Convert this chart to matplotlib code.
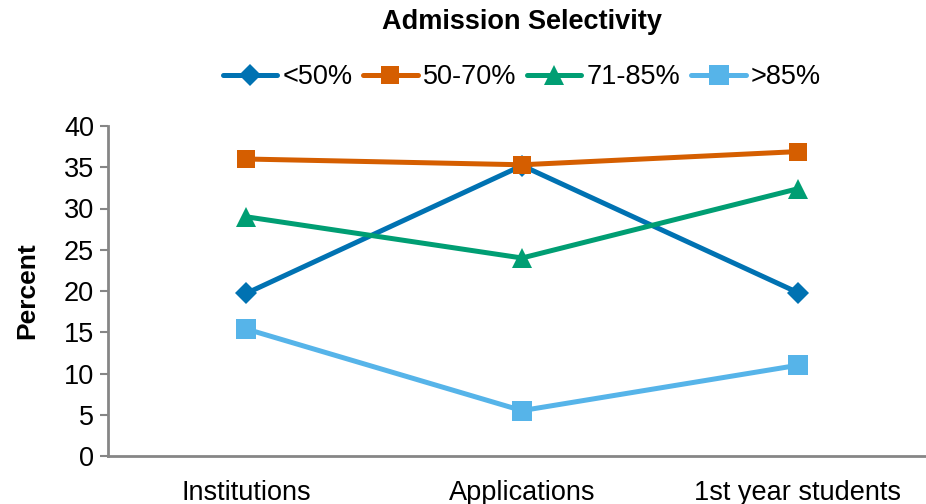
import matplotlib
matplotlib.use("Agg")
import matplotlib.pyplot as plt

categories = ["Institutions", "Applications", "1st year students"]
series_names = ["<50%", "50-70%", "71-85%", ">85%"]
lt50 = [19.7, 35.2, 19.8]
p50_70 = [36.0, 35.3, 36.9]
p71_85 = [29.0, 24.0, 32.4]
gt85 = [15.4, 5.5, 11.0]
y_ticks = [0, 5, 10, 15, 20, 25, 30, 35, 40]

colors = ["#0072B2", "#D55E00", "#009E73", "#56B4E9"]
markers = ["D", "s", "^", "s"]
marker_sizes = [11, 13, 14, 14]

plt.rcParams["font.family"] = ["Liberation Sans", "DejaVu Sans"]

fig = plt.figure(figsize=(9.26, 5.04), dpi=100)
ax = fig.add_axes([108 / 926, 48 / 504, 828 / 926, 330 / 504])

x = range(len(categories))
for name, vals, c, m, ms in zip(series_names, [lt50, p50_70, p71_85, gt85],
                                colors, markers, marker_sizes):
    ax.plot(x, vals, color=c, lw=3.6, marker=m, markersize=ms,
            markeredgewidth=0, label=name, solid_capstyle="round")

ax.set_xlim(-0.5, len(categories) - 0.5)
ax.set_ylim(0, 40)
ax.set_yticks(y_ticks)
ax.set_xticks(list(x))
ax.set_xticklabels(categories)
ax.tick_params(axis="y", labelsize=19.5, length=6, width=1.5, color="#868686",
               pad=4)
ax.tick_params(axis="x", labelsize=19.5, length=0, pad=17)
for side in ("top", "right"):
    ax.spines[side].set_visible(False)
for side in ("left", "bottom"):
    ax.spines[side].set_color("#868686")
    ax.spines[side].set_linewidth(2)

ax.set_ylabel("Percent", fontsize=19, fontweight="bold", labelpad=18)

fig.text(522 / 926, 1 - 22 / 504, "Admission Selectivity", ha="center",
         va="center", fontsize=19.5, fontweight="bold")
fig.legend(loc="center", bbox_to_anchor=(522 / 926, 1 - 77 / 504), ncol=4,
           frameon=False, fontsize=19.5, handlelength=2.0, handletextpad=0.2,
           columnspacing=0.4, borderaxespad=0)

fig.savefig("out.png", dpi=100)
